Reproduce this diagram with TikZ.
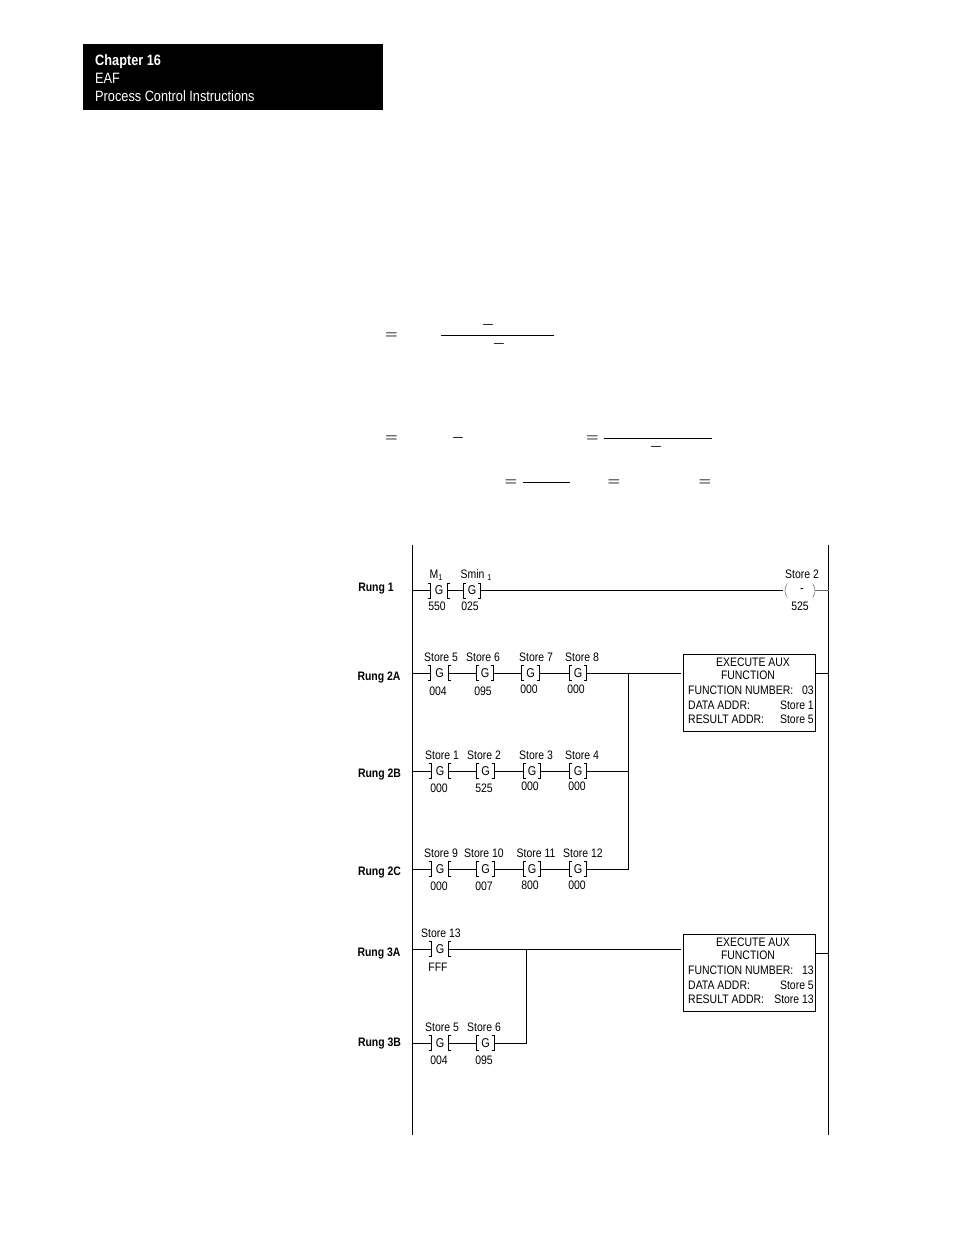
\documentclass[tikz,border=0pt]{standalone}
\usepackage{fontspec}
\setmainfont[FakeStretch=0.85]{Liberation Sans}
\tikzset{
    gate/.style={inner sep=0pt, minimum width=17pt, minimum height=15pt, font=\fontsize{12.8}{13}\selectfont},
    tag/.style={inner sep=0pt, font=\fontsize{12.3}{13}\selectfont},
    rung/.style={inner sep=0pt, font=\fontsize{12.3}{13}\selectfont\bfseries},
    head/.style={inner sep=0pt, anchor=base west, text=white, font=\fontsize{15}{16}\selectfont},
    wire/.style={line width=0.9pt},
    bracket/.style={line width=0.8pt},
    auxbox/.style={draw, line width=0.9pt, inner sep=0pt, minimum width=132.5pt, minimum height=77pt},
    symb/.style={inner sep=0pt, font=\fontsize{14}{15}\selectfont\boldmath}
}
% #1 bracket direction, #2 name, #3 x, #4 y, #5 label, #6 label x, #7 value, #8 value x, #9 value y
\newcommand{\contact}[9]{
    \node[gate] (#2) at (#3,#4) {\raisebox{-2.5pt}{G}};
    \draw[bracket]
        ([xshift=#1*2.5pt,yshift=7.5pt]#2.west) -- ([yshift=7.5pt]#2.west)
        -- ([yshift=-7.5pt]#2.west) -- ([xshift=#1*2.5pt,yshift=-7.5pt]#2.west);
    \draw[bracket]
        ([xshift=-#1*2.5pt,yshift=7.5pt]#2.east) -- ([yshift=7.5pt]#2.east)
        -- ([yshift=-7.5pt]#2.east) -- ([xshift=-#1*2.5pt,yshift=-7.5pt]#2.east);
    \node[tag] (#2l) at (#6,#4-15.5) {#5};
    \node[tag] (#2v) at (#8,#9+0.5) {#7};
}
% #1 name, #2 top y, #3 number, #4 data, #5 result, #6 height of the stub
\newcommand{\auxfunc}[6]{
    \node[auxbox] (#1) at (749.25,#2+38.5) {};
    \node[tag] (#1a) at (753,#2+8.5) {EXECUTE AUX};
    \node[tag] (#1b) at (748,#2+21.5) {FUNCTION};
    \node[tag, anchor=west] (#1c) at (688,#2+36) {FUNCTION NUMBER:};
    \node[tag, anchor=east] (#1d) at (814,#2+36) {#3};
    \node[tag, anchor=west] (#1e) at (688,#2+51) {DATA ADDR:};
    \node[tag, anchor=east] (#1f) at (814,#2+51) {#4};
    \node[tag, anchor=west] (#1g) at (688,#2+65) {RESULT ADDR:};
    \node[tag, anchor=east] (#1h) at (814,#2+65) {#5};
    \coordinate (#1r) at (815.5,#2+#6);
}
\begin{document}
\begin{tikzpicture}[x=1pt,y=-1pt]
    \useasboundingbox (0,0) rectangle (954,1235);
    % chapter heading
    \fill (83,44) rectangle (383,110);
    \node[head, font=\fontsize{15}{16}\selectfont\bfseries] (chap) at (95,65.5) {Chapter 16};
    \node[head] (eaf) at (95,83.5) {EAF};
    \node[head] (proc) at (95,101.5) {Process Control Instructions};
    % what is left of the equations
    \foreach \n/\x/\y in {ea/391.5/336, eb/391.5/439, ec/592.5/439, ed/511/483, ee/614/483, ef/705/483}
        \node[symb] (\n) at (\x,\y) {$=$};
    \foreach \n/\x/\y in {ma/488/325, mb/499/344, mc/458/438, md/656/447}
        \node[symb] (\n) at (\x,\y) {$-$};
    \draw[wire] (441,335) -- (554,335);
    \draw[wire] (604,438) -- (712,438);
    \draw[wire] (523,482) -- (570,482);
    % rails
    \coordinate (ltop) at (412,545);
    \coordinate (lbot) at (412,1135);
    \coordinate (rtop) at (828.5,545);
    \coordinate (rbot) at (828.5,1135);
    \draw[wire] (ltop) -- (lbot);
    \draw[wire] (rtop) -- (rbot);
    % rung labels
    \foreach \n/\t/\x/\y in {ra/Rung 1/376/588.5, rb/Rung 2A/379/677.5, rc/Rung 2B/379.5/774.5,
        rd/Rung 2C/379.5/872.5, re/Rung 3A/379/953.5, rf/Rung 3B/379.5/1043.5}
        \node[rung] (\n) at (\x,\y) {\t};
    % rung 1
    \contact{-1}{ga}{439}{590.5}{M\raisebox{-2pt}{\fontsize{8.5}{9}\selectfont 1}}{436}{550}{437}{606}
    \contact{1}{gb}{472}{590.5}{Smin \raisebox{-2pt}{\fontsize{8.5}{9}\selectfont 1}}{476}{025}{470}{606}
    \node[gate, minimum width=30pt] (coil) at (800,590.5) {\hspace{4pt}-};
    \node[tag] (coill) at (802,574.5) {Store 2};
    \node[tag] (coilv) at (800,606.5) {525};
    \draw[line width=0.5pt, black!60] ([xshift=2.5pt,yshift=7pt]coil.west)
        to[bend right=35] ([xshift=2.5pt,yshift=-7pt]coil.west);
    \draw[line width=0.5pt, black!60] ([xshift=-2.5pt,yshift=7pt]coil.east)
        to[bend left=35] ([xshift=-2.5pt,yshift=-7pt]coil.east);
    \draw[wire] (ltop |- ga.west) -- (ga.west);
    \draw[wire] (ga.east) -- (gb.west);
    \draw[wire] (gb.east) -- ([xshift=-2pt]coil.west);
    \draw[line width=0.5pt, black!60] (coil.east) -- (rtop |- coil.east);
    % rung 2A
    \contact{-1}{gc}{439.5}{673}{Store 5}{441}{004}{438}{691}
    \contact{1}{gd}{485}{673}{Store 6}{483}{095}{483}{691}
    \contact{1}{ge}{530.5}{673}{Store 7}{536}{000}{529}{689}
    \contact{1}{gf}{578}{673}{Store 8}{582}{000}{576}{689}
    % rung 2B
    \contact{-1}{gg}{440}{771}{Store 1}{442}{000}{439}{788}
    \contact{1}{gh}{485.5}{771}{Store 2}{484}{525}{484}{788}
    \contact{1}{gi}{532}{771}{Store 3}{536}{000}{530}{786}
    \contact{1}{gj}{578}{771}{Store 4}{582}{000}{577}{786}
    % rung 2C
    \contact{-1}{gk}{440}{869}{Store 9}{441}{000}{439}{886}
    \contact{1}{gl}{485.5}{869}{Store 10}{484}{007}{484}{886}
    \contact{1}{gm}{532}{869}{Store 11}{536}{800}{530}{885}
    \contact{1}{gn}{578}{869}{Store 12}{583}{000}{577}{885}
    \auxfunc{auxa}{654}{03}{Store 1}{Store 5}{19}
    \coordinate (busa) at (628,672.5);
    \coordinate (busb) at (628,869.5);
    \foreach \a/\b in {gc/gd, gd/ge, ge/gf, gg/gh, gh/gi, gi/gj, gk/gl, gl/gm, gm/gn}
        \draw[wire] (\a.east) -- (\b.west);
    \foreach \a in {gc, gg, gk}
        \draw[wire] (ltop |- \a.west) -- (\a.west);
    \draw[wire] (gf.east) -- ([xshift=-1.5pt]auxa.west |- gf.east);
    \draw[wire] (gj.east) -- (gj.east -| busa);
    \draw[wire] (gn.east) -- (gn.east -| busa);
    \draw[wire] (busa) -- (busb);
    \draw[wire] (auxar) -- (auxar -| rtop);
    % rung 3A and 3B
    \contact{-1}{go}{440}{949}{Store 13}{441}{FFF}{438}{967}
    \contact{-1}{gp}{440}{1043}{Store 5}{442}{004}{439}{1060}
    \contact{1}{gq}{485.5}{1043}{Store 6}{484}{095}{484}{1060}
    \auxfunc{auxb}{934}{13}{Store 5}{Store 13}{19}
    \coordinate (busc) at (526,949);
    \draw[wire] (ltop |- go.west) -- (go.west);
    \draw[wire] (go.east) -- ([xshift=-1.5pt]auxb.west |- go.east);
    \draw[wire] (ltop |- gp.west) -- (gp.west);
    \draw[wire] (gp.east) -- (gq.west);
    \draw[wire] (gq.east) -| (busc);
    \draw[wire] (auxbr) -- (auxbr -| rtop);
\end{tikzpicture}
\end{document}
